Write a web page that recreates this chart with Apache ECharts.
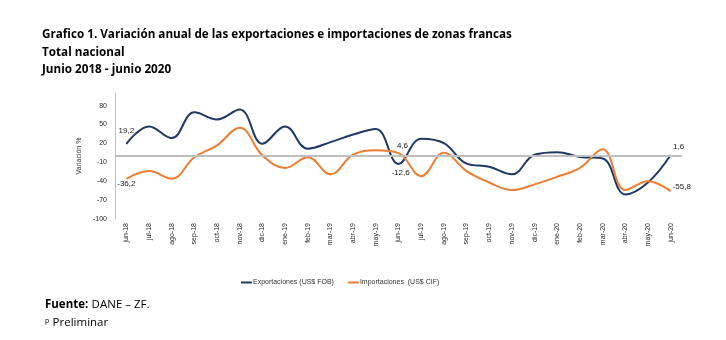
<!DOCTYPE html>
<html>
<head>
<meta charset="utf-8">
<script src="https://cdn.jsdelivr.net/npm/echarts@6/dist/echarts.min.js"></script>
<style>
html,body{margin:0;padding:0;background:#fff;}
#c{width:726px;height:340px;}
</style>
</head>
<body>
<div id="c"></div>
<script>
const categories = ["jun-18","jul-18","ago-18","sep-18","oct-18","nov-18","dic-18","ene-19","feb-19","mar-19","abr-19","may-19","jun-19","jul-19","ago-19","sep-19","oct-19","nov-19","dic-19","ene-20","feb-20","mar-20","abr-20","may-20","jun-20"];
const exportaciones = [19.2,47,28.5,69.5,58,74,19.6,47,11.7,22,34,43,-12.6,27.5,20.5,-12,-17,-29,2,6,-1.5,-4,-61,-42,1.6];
const importaciones = [-36.2,-24,-36,-2,17,45,1,-19,-2,-29,2,9,4.6,-32,5,-24,-42,-54,-45,-33,-19,10.6,-54,-40,-55.8];
const yTicks = {min:-100, max:100, interval:30};
const seriesNames = ["Exportaciones (US$ FOB)","Importaciones  (US$ CIF)"];

const fmt = v => String(v).replace('.', ',');

function withLabels(values, labels){
  return values.map((v,i)=>{
    const l = labels[i];
    if(!l) return v;
    return {value:v, label:Object.assign({show:true, formatter:fmt(v), color:'#1a1a1a', fontSize:8, fontFamily:'Liberation Sans'}, l)};
  });
}

const expData = withLabels(exportaciones, {
  0:{position:'top', distance:9, offset:[0,0]},
  12:{position:'bottom', distance:5, offset:[2,0]},
  24:{position:'top', distance:4, offset:[8,0]}
});
const impData = withLabels(importaciones, {
  0:{position:'bottom', distance:1},
  12:{position:'top', distance:3, offset:[4,0]},
  24:{position:'right', distance:2, offset:[0,-4]}
});

const chart = echarts.init(document.getElementById('c'));
chart.setOption({
  animation:false,
  backgroundColor:'#fff',
  grid:{left:115, right:44, top:93, bottom:121},
  xAxis:{
    type:'category', data:categories, boundaryGap:true,
    axisLine:{show:false}, axisTick:{show:false},
    axisLabel:{rotate:90, interval:0, fontSize:7, color:'#262626', fontFamily:'Liberation Sans', margin:4}
  },
  yAxis:{
    type:'value', min:yTicks.min, max:yTicks.max, interval:yTicks.interval,
    name:'Variación %', nameLocation:'middle', nameGap:22, nameRotate:90,
    nameTextStyle:{fontSize:7, color:'#333', fontFamily:'Liberation Sans'},
    axisLine:{show:true, lineStyle:{color:'#bfbfbf', width:1}},
    axisTick:{show:false}, splitLine:{show:false},
    axisLabel:{fontSize:7, color:'#262626', fontFamily:'Liberation Sans', margin:8, showMaxLabel:false}
  },
  legend:{
    left:236, top:274, itemGap:14, itemWidth:11, itemHeight:2, icon:'rect',
    textStyle:{fontSize:7, color:'#333', fontFamily:'Liberation Sans', padding:[0,0,0,-4]},
    data:seriesNames
  },
  series:[
    {name:seriesNames[0], type:'line', data:expData, smooth:0.4, symbol:'circle', symbolSize:0,
     lineStyle:{color:'#1f3864', width:2}, itemStyle:{color:'#1f3864'},
     markLine:{silent:true, symbol:'none', label:{show:false}, lineStyle:{color:'#bfbfbf', width:2, type:'solid'}, data:[{yAxis:0}]}
    },
    {name:seriesNames[1], type:'line', data:impData, smooth:0.4, symbol:'circle', symbolSize:0,
     lineStyle:{color:'#ed7d31', width:2}, itemStyle:{color:'#ed7d31'}}
  ],
  graphic:[
    {type:'text', left:42, top:29, style:{text:'Grafico 1. Variación anual de las exportaciones e importaciones de zonas francas', font:'bold 11.7px "Open Sans"', fill:'#000'}},
    {type:'text', left:42, top:46.5, style:{text:'Total nacional', font:'bold 11.7px "Open Sans"', fill:'#000'}},
    {type:'text', left:42, top:64, style:{text:'Junio 2018 - junio 2020', font:'bold 11.7px "Open Sans"', fill:'#000'}},
    {type:'text', left:45, top:299, style:{rich:{b:{font:'bold 11.5px "Open Sans"', fill:'#000'}, n:{font:'11.5px "Open Sans"', fill:'#000'}}, text:'{b|Fuente:} {n|DANE – ZF.}'}},
    {type:'text', left:45, top:317, style:{rich:{s:{font:'7px "Open Sans"', fill:'#000', verticalAlign:'top'}, n:{font:'11.5px "Open Sans"', fill:'#000'}}, text:'{s|p} {n|Preliminar}'}}
  ]
});
</script>
</body>
</html>
